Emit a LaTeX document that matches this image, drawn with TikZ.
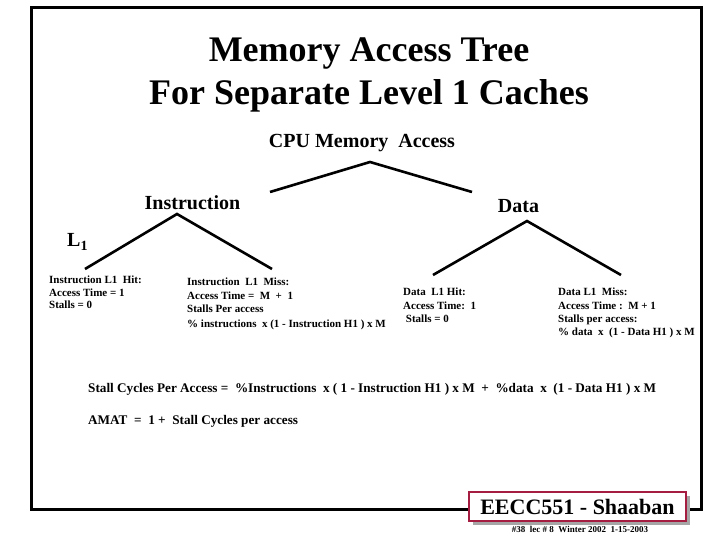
\documentclass[tikz,border=0pt]{standalone}
\usepackage{fontspec}
\setmainfont{Liberation Serif}
\usepackage{xcolor}
\usetikzlibrary{positioning,shadows}
\definecolor{shaabanred}{RGB}{165,30,65}
\tikzstyle{heading}=[font=\fontsize{36}{40}\selectfont\bfseries,anchor=base,inner sep=0pt]
\tikzstyle{branch}=[font=\fontsize{20}{24}\selectfont\bfseries,anchor=base,inner sep=0pt]
\tikzstyle{leaf}=[font=\fontsize{11}{12.5}\selectfont\bfseries,align=left,anchor=north west,inner sep=0pt]
\tikzstyle{wideleaf}=[leaf,font=\fontsize{11}{13.2}\selectfont\bfseries]
\tikzstyle{formula}=[font=\fontsize{13.2}{15}\selectfont\bfseries,anchor=base west,inner sep=0pt]
\tikzstyle{edge}=[line width=2.6pt]

\begin{document}
\begin{tikzpicture}[x=1pt,y=-1pt]
	\useasboundingbox (0,0) rectangle (720,540);
	\draw[line width=3pt] (31.5,7.5) rectangle (701.5,509.5);
	\node[heading] (title1) at (369,62) {Memory Access Tree};
	\node[heading] (title2) at (369,105) {For Separate Level 1 Caches};
	% root and first split
	\node[branch] (cpu) at (362,148) {CPU Memory\ \ Access};
	\coordinate (cpu top) at (370,162);
	\coordinate (cpu left) at (270,192);
	\coordinate (cpu right) at (472,192);
	\draw[edge] (cpu left) -- (cpu top) -- (cpu right);
	\node[branch] (instr) at (192.5,210) {Instruction};
	\node[branch] (data) at (518.5,212) {Data};
	\node[branch,anchor=base west] (level) at (67,247) {L\textsubscript{1}};
	% instruction branch
	\coordinate (instr top) at (177,214);
	\coordinate (instr left) at (85,269);
	\coordinate (instr right) at (272,269);
	\draw[edge] (instr left) -- (instr top) -- (instr right);
	% data branch
	\coordinate (data top) at (527,221);
	\coordinate (data left) at (433,275);
	\coordinate (data right) at (621,275);
	\draw[edge] (data left) -- (data top) -- (data right);
	% leaves
	\node[leaf] (ihit) at (49,276) {Instruction L1\ \ Hit:\\Access Time = 1\\Stalls = 0};
	\node[wideleaf] (imiss) at (187,278) {Instruction\ \ L1\ \ Miss:\\Access Time\ =\ \ M\ \ +\ \ 1\\Stalls Per access\\[2pt]\% instructions\ \ x (1 - Instruction H1 ) x M};
	\node[wideleaf] (dhit) at (403,288) {Data\ \ L1 Hit:\\Access Time:\ \ 1\\\ Stalls = 0};
	\node[wideleaf] (dmiss) at (558,288) {Data L1\ \ Miss:\\Access Time :\ \ M + 1\\Stalls per access:\\\%\ data\ \ x\ \ (1 - Data H1 ) x M};
	% totals
	\node[formula] (stall) at (88,392) {Stall Cycles Per Access =\ \ \%Instructions\ \ x ( 1 - Instruction H1 ) x M\ \ +\ \ \%data\ \ x\ \ (1 - Data H1 ) x M};
	\node[formula] (amat) at (88,424) {AMAT\ \ =\ \ 1 +\ \ Stall Cycles per access};
	% footer
	\node[draw=shaabanred,line width=1.5pt,fill=white,minimum width=217pt,minimum height=29pt,
		drop shadow={shadow xshift=4pt,shadow yshift=-4pt,fill=gray!70,opacity=1},
		font=\fontsize{22}{24}\selectfont\bfseries] (badge) at (577.5,506.5) {EECC551 - Shaaban};
	\node[font=\fontsize{9}{10}\selectfont\bfseries,anchor=base,inner sep=0pt] (stamp) at (580,532) {\#38\ \ lec \# 8\ \ Winter 2002\ \ 1-15-2003};
\end{tikzpicture}
\end{document}
